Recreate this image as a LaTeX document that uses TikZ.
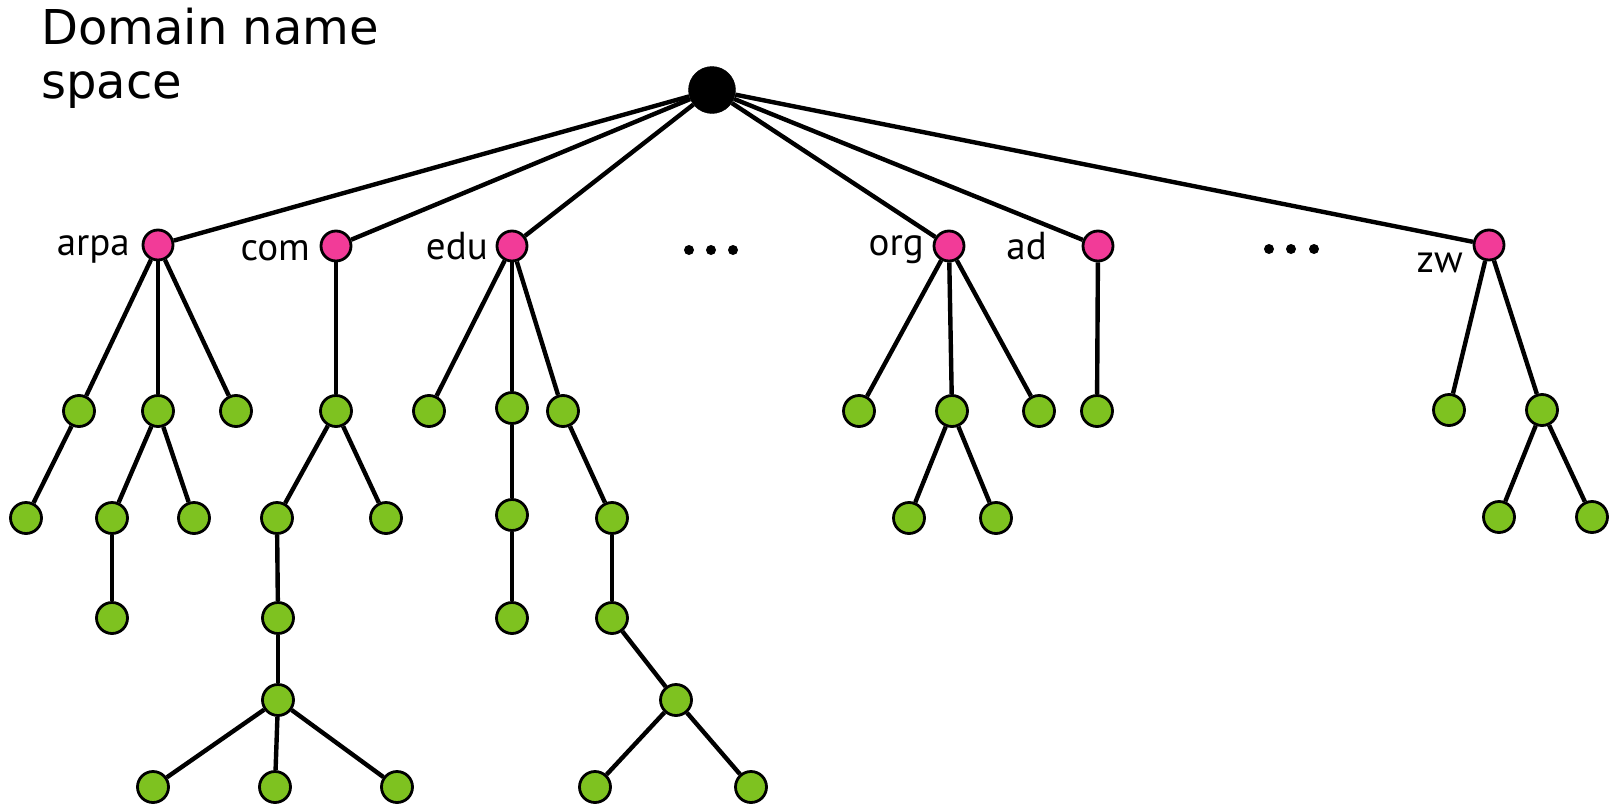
\documentclass[tikz,border=0pt]{standalone}
\usepackage{fontspec}
\newfontfamily\titlefont{DejaVu Sans}
\newfontfamily\labelfont{PT Sans}
\definecolor{dnspink}{RGB}{242,59,152}
\definecolor{dnsgreen}{RGB}{126,194,32}
\tikzset{
  rootnode/.style={circle, fill=black, draw=black, minimum size=47pt, inner sep=0pt},
  tld/.style={circle, fill=dnspink, draw=black, line width=2.8pt, minimum size=30pt, inner sep=0pt},
  leaf/.style={circle, fill=dnsgreen, draw=black, line width=2.8pt, minimum size=31pt, inner sep=0pt},
  edge/.style={line width=4.4pt, black},
  dotmark/.style={circle, fill=black, minimum size=10pt, inner sep=0pt},
  lbl/.style={font=\labelfont\fontsize{39}{44}\selectfont, inner sep=0pt, anchor=base east},
}
\begin{document}
\begin{tikzpicture}[x=1pt,y=-1pt]
\useasboundingbox (0,0) rectangle (1615,806);
\node[font=\titlefont\fontsize{48}{54}\selectfont, anchor=base west, align=left, inner sep=0pt] (title) at (41,98) {Domain name\\space};
% root and TLDs
\node[rootnode] (root) at (712,90) {};
\node[tld] (arpa) at (158,245) {};
\node[tld] (com) at (336,246) {};
\node[tld] (edu) at (512,246) {};
\node[tld] (org) at (949,246) {};
\node[tld] (ad) at (1098,246) {};
\node[tld] (zw) at (1489,245) {};
% labels
\node[lbl] (larpa) at (130,255) {arpa};
\node[lbl] (lcom) at (310,260) {com};
\node[lbl] (ledu) at (488,259) {edu};
\node[lbl] (lorg) at (924,255) {org};
\node[lbl] (lad) at (1047,259) {ad};
\node[lbl] (lzw) at (1463,272) {zw};
% ellipses
\node[dotmark] (d1) at (689,250) {};
\node[dotmark] (d2) at (711,250) {};
\node[dotmark] (d3) at (733,250) {};
\node[dotmark] (d4) at (1269,249) {};
\node[dotmark] (d5) at (1291,249) {};
\node[dotmark] (d6) at (1314,249) {};
% arpa subtree
\node[leaf] (a1) at (79,411) {};
\node[leaf] (a2) at (158,411) {};
\node[leaf] (a3) at (236,411) {};
\node[leaf] (a11) at (26,518) {};
\node[leaf] (a21) at (112,518) {};
\node[leaf] (a22) at (194,518) {};
\node[leaf] (a211) at (112,618) {};
% com subtree
\node[leaf] (c1) at (336,411) {};
\node[leaf] (c11) at (277,518) {};
\node[leaf] (c12) at (386,518) {};
\node[leaf] (c111) at (278,618) {};
\node[leaf] (c1111) at (278,700) {};
\node[leaf] (cx1) at (153,787) {};
\node[leaf] (cx2) at (275,787) {};
\node[leaf] (cx3) at (397,787) {};
% edu subtree
\node[leaf] (e1) at (429,411) {};
\node[leaf] (e2) at (512,408) {};
\node[leaf] (e3) at (563,411) {};
\node[leaf] (e21) at (512,515) {};
\node[leaf] (e211) at (512,618) {};
\node[leaf] (e31) at (612,518) {};
\node[leaf] (e311) at (612,618) {};
\node[leaf] (e3111) at (676,700) {};
\node[leaf] (ex1) at (595,787) {};
\node[leaf] (ex2) at (751,787) {};
% org subtree
\node[leaf] (o1) at (859,411) {};
\node[leaf] (o2) at (952,411) {};
\node[leaf] (o3) at (1039,411) {};
\node[leaf] (o21) at (909,518) {};
\node[leaf] (o22) at (996,518) {};
% ad subtree
\node[leaf] (ad1) at (1097,411) {};
% zw subtree
\node[leaf] (z1) at (1449,410) {};
\node[leaf] (z2) at (1542,410) {};
\node[leaf] (z21) at (1499,517) {};
\node[leaf] (z22) at (1592,517) {};
% edges
\begin{scope}[edge]
\foreach \t in {arpa,com,edu,org,ad,zw} \draw (root) -- (\t);
\foreach \c in {a1,a2,a3} \draw (arpa) -- (\c);
\draw (a1) -- (a11);
\draw (a2) -- (a21); \draw (a2) -- (a22);
\draw (a21) -- (a211);
\draw (com) -- (c1);
\draw (c1) -- (c11); \draw (c1) -- (c12);
\draw (c11) -- (c111); \draw (c111) -- (c1111);
\foreach \c in {cx1,cx2,cx3} \draw (c1111) -- (\c);
\foreach \c in {e1,e2,e3} \draw (edu) -- (\c);
\draw (e2) -- (e21); \draw (e21) -- (e211);
\draw (e3) -- (e31); \draw (e31) -- (e311); \draw (e311) -- (e3111);
\draw (e3111) -- (ex1); \draw (e3111) -- (ex2);
\foreach \c in {o1,o2,o3} \draw (org) -- (\c);
\draw (o2) -- (o21); \draw (o2) -- (o22);
\draw (ad) -- (ad1);
\draw (zw) -- (z1); \draw (zw) -- (z2);
\draw (z2) -- (z21); \draw (z2) -- (z22);
\end{scope}
\end{tikzpicture}
\end{document}
